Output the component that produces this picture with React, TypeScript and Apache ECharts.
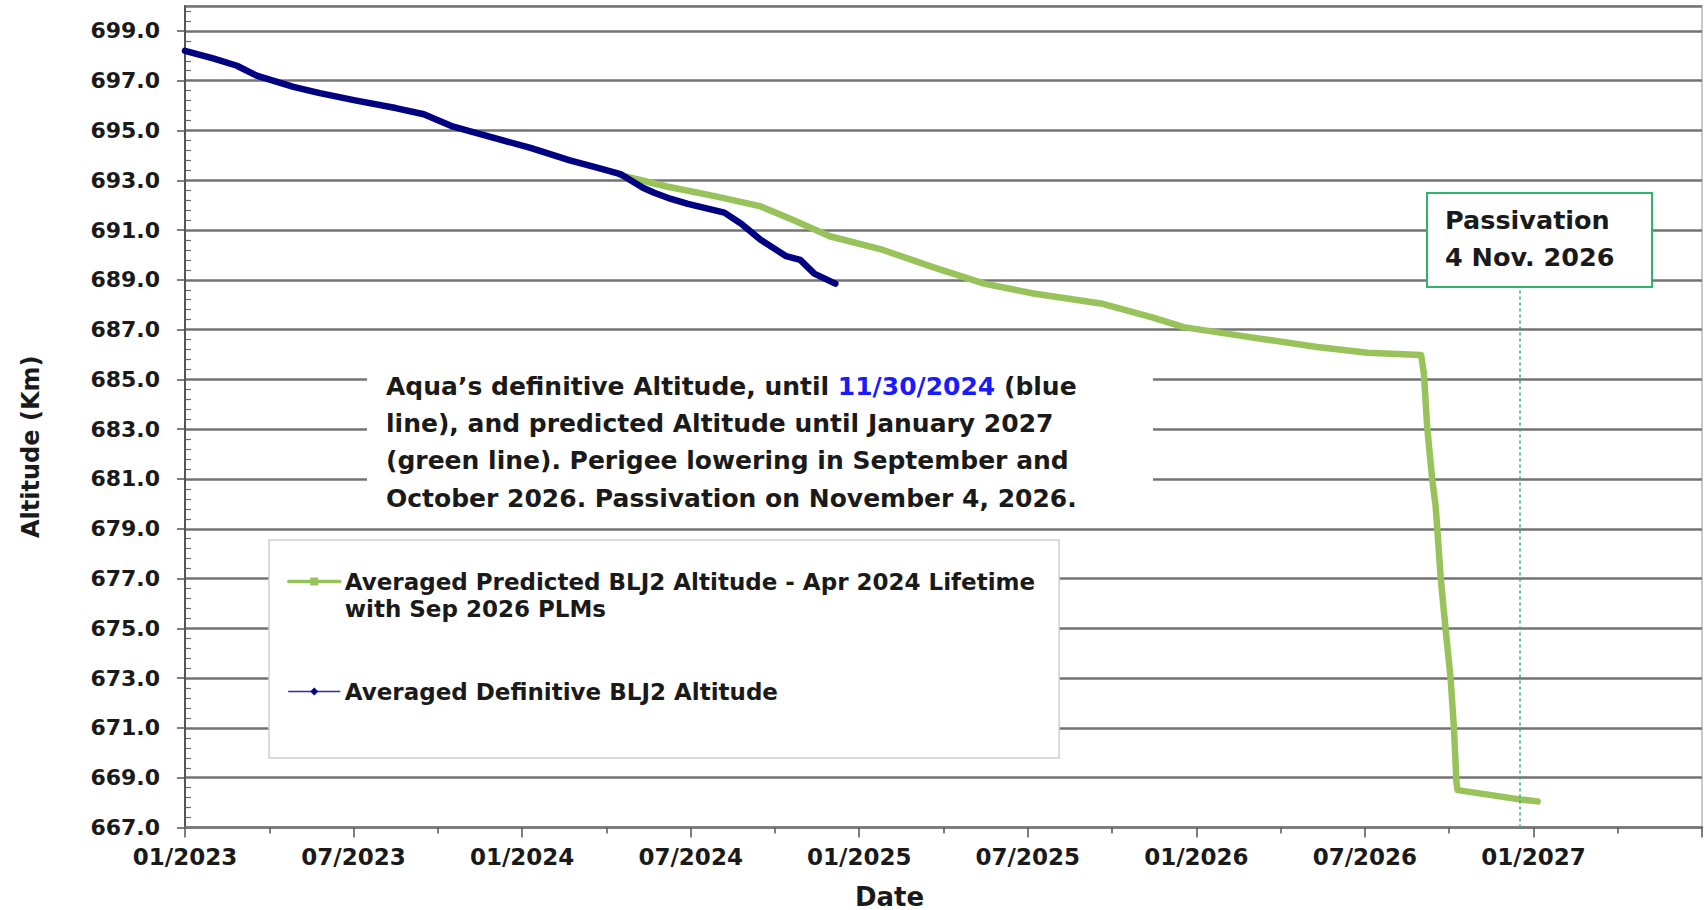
import React, { useEffect, useRef } from "react";
import * as echarts from "echarts";

// ---------- data ----------
// x values are months elapsed since 01/2023
const X_TICK_LABELS = [
  "01/2023", "07/2023", "01/2024", "07/2024", "01/2025",
  "07/2025", "01/2026", "07/2026", "01/2027", "07/2027",
];
const X_MIN = 0;
const X_MAX = 54;
const X_STEP = 6;

const Y_MIN = 667;
const Y_MAX = 700;
const Y_STEP = 2;

const PREDICTED_NAME = "Averaged Predicted BLJ2 Altitude - Apr 2024 Lifetime with Sep 2026 PLMs";
const DEFINITIVE_NAME = "Averaged Definitive BLJ2 Altitude";

const DEFINITIVE_MONTHS = [
  0, 1.0, 1.85, 2.55, 3.86, 4.8, 6.1, 7.5, 8.5, 9.55, 11.0, 12.3, 13.7, 14.7,
  15.5, 16.3, 16.7, 17.3, 17.9, 19.2, 19.8, 20.5, 21.4, 21.9, 22.4, 23.15,
];
const DEFINITIVE_ALT = [
  698.2, 697.9, 697.6, 697.2, 696.75, 696.5, 696.2, 695.9, 695.65, 695.15, 694.7, 694.3, 693.8, 693.5,
  693.25, 692.7, 692.5, 692.25, 692.05, 691.7, 691.25, 690.6, 689.95, 689.8, 689.25, 688.85,
];

const PREDICTED_MONTHS = [
  15.5, 17.15, 18.9, 20.5, 21.65, 22.95, 24.85, 26.65, 28.45, 30.2, 32.6, 34.4, 35.55, 37.9,
  40.3, 42.1, 44.0, 44.1, 44.22, 44.4, 44.52, 44.7, 44.87, 45.05, 45.17, 45.26, 45.3, 46.5,
  47.5, 48.15,
];
const PREDICTED_ALT = [
  693.2, 692.75, 692.35, 691.95, 691.4, 690.75, 690.2, 689.5, 688.85, 688.45, 688.05, 687.5, 687.1, 686.7,
  686.3, 686.07, 685.98, 685.25, 683.05, 680.95, 679.9, 677.0, 675.0, 673.0, 671.0, 668.8, 668.5, 668.3,
  668.13, 668.05,
];

const PASSIVATION_MARK_MONTH = 47.5;
const PASSIVATION_MARK_TOP_ALT = 688.7;

const ANNOTATION_LINES = [
  "Aqua\u2019s definitive Altitude, until {d|11/30/2024} (blue",
  "line), and predicted Altitude until January 2027",
  "(green line). Perigee lowering in September and",
  "October 2026. Passivation on November 4, 2026.",
];
const PASSIVATION_LINES = ["Passivation", "4 Nov. 2026"];

// ---------- styles ----------
const FONT = '"DejaVu Sans", "Liberation Sans", Arial, sans-serif';
const TEXT = "#1a1a1a";
const GREEN = "#98c25a";
const NAVY = "#000080";
const MARK_GREEN = "#2db36b";

export default function App() {
  const ref = useRef<HTMLDivElement>(null);

  useEffect(() => {
    if (!ref.current) return;
    const chart = echarts.init(ref.current, null, { renderer: "svg" });

    const predicted = PREDICTED_MONTHS.map((m, i) => [m, PREDICTED_ALT[i]]);
    const definitive = DEFINITIVE_MONTHS.map((m, i) => [m, DEFINITIVE_ALT[i]]);

    const option: any = {
      animation: false,
      backgroundColor: "#fff",
      grid: {
        left: 185,
        right: 6,
        top: 6,
        bottom: 82.5,
        show: true,
        borderColor: "#c8c8c8",
        borderWidth: 2,
        backgroundColor: "transparent",
        outerBoundsMode: "none",
      },
      xAxis: {
        type: "value",
        min: X_MIN,
        max: X_MAX,
        interval: X_STEP,
        name: "Date",
        nameLocation: "middle",
        nameGap: 56,
        nameTextStyle: {
          fontFamily: FONT,
          fontWeight: "bold",
          fontSize: 26,
          color: TEXT,
          padding: [0, 108, 0, 0],
        },
        axisLine: { show: true, onZero: false, lineStyle: { color: "#7a7a7a", width: 2.5 } },
        axisTick: { show: true, length: 10, lineStyle: { color: "#555", width: 1.5 } },
        minorTick: { show: true, splitNumber: 2, length: 6, lineStyle: { color: "#555", width: 1.5 } },
        splitLine: { show: false },
        axisLabel: {
          margin: 18,
          showMaxLabel: false,
          fontFamily: FONT,
          fontWeight: "bold",
          fontSize: 23,
          color: TEXT,
          formatter: (v: number) => X_TICK_LABELS[Math.round((v - X_MIN) / X_STEP)] ?? "",
        },
      },
      yAxis: [
        {
          type: "value",
          min: Y_MIN,
          max: Y_MAX,
          interval: Y_STEP,
          name: "Altitude (Km)",
          nameLocation: "middle",
          nameGap: 142,
          nameRotate: 90,
          nameTextStyle: {
            fontFamily: FONT,
            fontWeight: "bold",
            fontSize: 24,
            color: TEXT,
            padding: [0, 60, 0, 0],
          },
          axisLine: { show: true, lineStyle: { color: "#555", width: 2 } },
          axisTick: { show: true, length: 8, lineStyle: { color: "#555", width: 1.5 } },
          splitLine: { show: true, lineStyle: { color: "#737373", width: 2.5 } },
          axisLabel: {
            margin: 25,
            showMaxLabel: false,
            fontFamily: FONT,
            fontWeight: "bold",
            fontSize: 22,
            color: TEXT,
            formatter: (v: number) => v.toFixed(1),
          },
        },
        {
          type: "value",
          min: Y_MIN,
          max: Y_MAX,
          interval: Y_STEP,
          position: "left",
          axisLine: { show: false },
          axisLabel: { show: false },
          splitLine: { show: false },
          axisTick: { show: false, inside: true },
          minorTick: { show: true, splitNumber: 5, length: 6, lineStyle: { color: "#666", width: 1.2 } },
        },
      ],
      legend: {
        orient: "vertical",
        left: 269,
        top: 540,
        padding: [1, 24, 53, 18],
        itemGap: 56,
        itemWidth: 51,
        itemHeight: 10,
        selectedMode: false,
        backgroundColor: "#fff",
        borderColor: "#d0d0d0",
        borderWidth: 1.5,
        textStyle: {
          fontFamily: FONT,
          fontWeight: "bold",
          fontSize: 23,
          lineHeight: 27,
          color: TEXT,
        },
        formatter: (name: string) =>
          name === PREDICTED_NAME
            ? "\nAveraged Predicted BLJ2 Altitude - Apr 2024 Lifetime\nwith Sep 2026 PLMs"
            : name,
        data: [
          { name: PREDICTED_NAME, lineStyle: { width: 3.5, color: GREEN }, itemStyle: { color: GREEN } },
          { name: DEFINITIVE_NAME, lineStyle: { width: 1.5, color: "#2b2bb0" }, itemStyle: { color: NAVY } },
        ],
      },
      graphic: [
        {
          type: "rect",
          z: 100,
          shape: { x: 367, y: 338, width: 786, height: 184 },
          style: { fill: "#ffffff" },
        },
        {
          type: "text",
          z: 101,
          style: {
            x: 386,
            y: 367.5,
            text: ANNOTATION_LINES.join("\n"),
            fontFamily: FONT,
            fontWeight: "bold",
            fontSize: 25,
            lineHeight: 37.3,
            fill: TEXT,
            verticalAlign: "top",
            rich: {
              d: {
                fontFamily: FONT,
                fontWeight: "bold",
                fontSize: 25,
                lineHeight: 37.3,
                fill: "#1a1aff",
              },
            },
          },
        },
        {
          type: "rect",
          z: 100,
          shape: { x: 1427, y: 193, width: 225, height: 94 },
          style: { fill: "#ffffff", stroke: MARK_GREEN, lineWidth: 2 },
        },
        {
          type: "text",
          z: 101,
          style: {
            x: 1445,
            y: 201.5,
            text: PASSIVATION_LINES.join("\n"),
            fontFamily: FONT,
            fontWeight: "bold",
            fontSize: 25.5,
            lineHeight: 37,
            fill: TEXT,
            verticalAlign: "top",
          },
        },
      ],
      series: [
        {
          name: PREDICTED_NAME,
          type: "line",
          data: predicted,
          symbol: "rect",
          symbolSize: 6,
          showSymbol: false,
          color: GREEN,
          lineStyle: { width: 6.5, color: GREEN, cap: "round", join: "round" },
          z: 2,
          markLine: {
            silent: true,
            symbol: "none",
            label: { show: false },
            lineStyle: { color: MARK_GREEN, width: 1.5, type: [3, 3] },
            data: [
              [
                { coord: [PASSIVATION_MARK_MONTH, Y_MIN] },
                { coord: [PASSIVATION_MARK_MONTH, PASSIVATION_MARK_TOP_ALT] },
              ],
            ],
          },
        },
        {
          name: DEFINITIVE_NAME,
          type: "line",
          data: definitive,
          symbol: "diamond",
          symbolSize: 8,
          showSymbol: false,
          color: NAVY,
          lineStyle: { width: 6.5, color: NAVY, cap: "round", join: "round" },
          z: 3,
        },
      ],
    };

    chart.setOption(option);
    return () => chart.dispose();
  }, []);

  return (
    <div
      ref={ref}
      style={{ position: "fixed", left: 0, top: 0, width: 1708, height: 910, background: "#fff" }}
    />
  );
}
